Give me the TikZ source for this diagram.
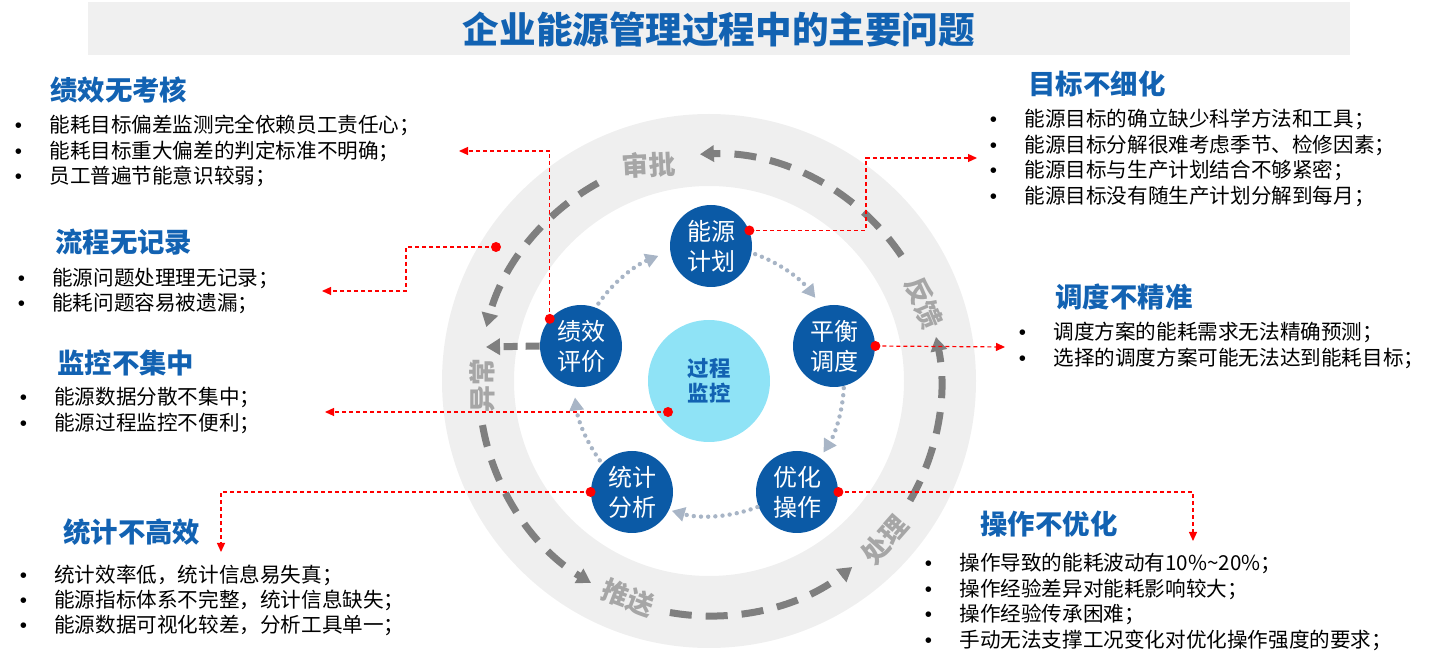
\documentclass[tikz,border=0pt]{standalone}
\usepackage{fontspec}
\setmainfont{Noto Sans CJK SC}
\newfontfamily\bulletfont{Liberation Sans}
\usetikzlibrary{arrows.meta,calc}
\definecolor{nodeblue}{HTML}{0B5AA6}
\definecolor{titleblue}{HTML}{1262B2}
\definecolor{cyanc}{HTML}{8FE3F6}
\definecolor{ringgrey}{HTML}{EFEFEF}
\definecolor{bannergrey}{HTML}{F0F0F0}
\definecolor{dashgrey}{HTML}{7F7F7F}
\definecolor{dotgrey}{HTML}{A8B5C6}
\definecolor{labelgrey}{HTML}{A6A6A6}
\definecolor{redc}{HTML}{FF0000}
\newcommand{\bitem}[1]{\makebox[0pt]{\bulletfont •}\hspace{15.5pt}#1}
\begin{document}
\begin{tikzpicture}[x=0.5pt,y=-0.5pt,
  maintitle/.style={inner sep=0pt, font=\fontsize{18.3pt}{20pt}\selectfont\bfseries, text=titleblue},
  sectitle/.style={anchor=west, inner sep=0pt, font=\fontsize{13.7pt}{15pt}\selectfont\bfseries, text=titleblue},
  bullets/.style={anchor=west, inner sep=0pt, align=left, font=\fontsize{10.3pt}{12.7pt}\selectfont, text=black},
  stage/.style={circle, fill=nodeblue, minimum size=41pt, inner sep=0pt, text=white, align=center, font=\fontsize{12pt}{15pt}\selectfont},
  core/.style={circle, fill=cyanc, minimum size=61pt, inner sep=0pt, text=titleblue, align=center, font=\fontsize{10.7pt}{12.5pt}\selectfont\bfseries},
  ringlabel/.style={text=labelgrey, inner sep=0pt, font=\fontsize{13.4pt}{14pt}\selectfont\bfseries},
  ringarrow/.style={draw=dashgrey, line width=3.5pt, dash pattern=on 11pt off 7pt, -{Triangle[length=7pt,width=8pt]}},
  dotarc/.style={draw=dotgrey, line width=2.2pt, line cap=round, dash pattern=on 0pt off 3.6pt, -{Triangle[length=6.5pt,width=7pt]}},
  reddash/.style={draw=redc, line width=0.6pt, dash pattern=on 2pt off 1.5pt, -{Triangle[length=4.5pt,width=4pt]}},
  reddot/.style={circle, fill=redc, minimum size=5pt, inner sep=0pt}]
\useasboundingbox (0,0) rectangle (1432,663);

% banner and title
\fill[bannergrey] (88,2) rectangle (1350,55);
\node[maintitle] (title) at (719,29) {企业能源管理过程中的主要问题};

% ring
\coordinate (C) at (709,381);
\coordinate (R) at (710,385);
\fill[ringgrey, even odd rule] (C) circle[radius=267] (C) circle[radius=195];

% ring arrows (counter-clockwise)
\draw[ringarrow] (R) ++(30:231) arc[start angle=30, end angle=-12, radius=231];
\draw[ringarrow] (R) ++(-34:231) arc[start angle=-34, end angle=-92.5, radius=231];
\draw[ringarrow] (R) ++(-119:231) arc[start angle=-119, end angle=-165.5, radius=231];
\draw[ringarrow] (R) ++(-190:231) arc[start angle=-190, end angle=-239, radius=231];
\draw[ringarrow] (R) ++(-260:231) arc[start angle=-260, end angle=-308, radius=231];

% ring labels
\node[ringlabel, rotate=3] (lsp) at (649,165) {审批};
\node[ringlabel, rotate=-67] (lfk) at (924,303) {反馈};
\node[ringlabel, rotate=90] (lyc) at (482,386) {异常};
\node[ringlabel, rotate=-21] (lts) at (628,598) {推送};
\node[ringlabel, rotate=48.5] (lcl) at (885,540) {处理};

% stage nodes
\node[core] (mon) at (709,381) {过程\\监控};
\node[stage] (plan) at (711,246) {能源\\计划};
\node[stage] (bal) at (834,346) {平衡\\调度};
\node[stage] (opt) at (797,492) {优化\\操作};
\node[stage] (stat) at (632,492) {统计\\分析};
\node[stage] (perf) at (581,346) {绩效\\评价};

% dotted cycle arcs (clockwise)
\draw[dotarc] (C) ++(-70:135) arc[start angle=-70, end angle=-38, radius=135];
\draw[dotarc] (C) ++(3:135) arc[start angle=3, end angle=32, radius=135];
\draw[dotarc] (C) ++(69:135) arc[start angle=69, end angle=106, radius=135];
\draw[dotarc] (C) ++(144:135) arc[start angle=144, end angle=173, radius=135];
\draw[dotarc] (C) ++(-145:135) arc[start angle=-145, end angle=-112, radius=135];

% grey arrow from perf to ring
\coordinate (e0) at (486,347);
\draw[ringarrow, dash pattern=on 7pt off 4pt] (perf.west) -- (e0);

% text blocks
\node[sectitle] (t1) at (50,90) {绩效无考核};
\node[bullets] (b1) at (18,151) {\bitem{能耗目标偏差监测完全依赖员工责任心；}\\\bitem{能耗目标重大偏差的判定标准不明确；}\\\bitem{员工普遍节能意识较弱；}};
\node[sectitle] (t2) at (55,242) {流程无记录};
\node[bullets] (b2) at (21,291) {\bitem{能源问题处理理无记录；}\\\bitem{能耗问题容易被遗漏；}};
\node[sectitle] (t3) at (57,363) {监控不集中};
\node[bullets] (b3) at (23,410.5) {\bitem{能源数据分散不集中；}\\\bitem{能源过程监控不便利；}};
\node[sectitle] (t4) at (63,532) {统计不高效};
\node[bullets] (b4) at (23,600.5) {\bitem{统计效率低，统计信息易失真；}\\\bitem{能源指标体系不完整，统计信息缺失；}\\\bitem{能源数据可视化较差，分析工具单一；}};
\node[sectitle] (t5) at (1028,84) {目标不细化};
\node[bullets] (b5) at (993,158) {\bitem{能源目标的确立缺少科学方法和工具；}\\\bitem{能源目标分解很难考虑季节、检修因素；}\\\bitem{能源目标与生产计划结合不够紧密；}\\\bitem{能源目标没有随生产计划分解到每月；}};
\node[sectitle] (t6) at (1055,297) {调度不精准};
\node[bullets] (b6) at (1022,345.5) {\bitem{调度方案的能耗需求无法精确预测；}\\\bitem{选择的调度方案可能无法达到能耗目标；}};
\node[sectitle] (t7) at (980,524) {操作不优化};
\node[bullets] (b7) at (928,602) {\bitem{操作导致的能耗波动有10\%\textasciitilde20\%；}\\\bitem{操作经验差异对能耗影响较大；}\\\bitem{操作经验传承困难；}\\\bitem{手动无法支撑工况变化对优化操作强度的要求；}};

% red connectors
\coordinate (e1) at (977,158);
\coordinate (k1) at (866,158);
\coordinate (e2) at (459,151);
\coordinate (rd) at (496,247);
\coordinate (k3) at (406,291);
\coordinate (e3) at (322,291);
\coordinate (md) at (668,412);
\coordinate (e4) at (325,412);
\coordinate (e5) at (221,552);
\coordinate (e6) at (1005,347);
\coordinate (e7) at (1193,541);

\draw[reddash] (plan.22) -| (k1) -- (e1);
\draw[reddash] (perf.139) |- (e2);
\draw[reddash] (rd) -| (k3) -- (e3);
\draw[reddash] (md) -- (e4);
\draw[reddash] (stat.west) -| (e5);
\draw[reddash] (bal.east) -- (e6);
\draw[reddash] (opt.east) -| (e7);

\node[reddot] (d1) at (plan.22) {};
\node[reddot] (d2) at (perf.139) {};
\node[reddot] (d3) at (rd) {};
\node[reddot] (d4) at (md) {};
\node[reddot] (d5) at (stat.west) {};
\node[reddot] (d6) at (bal.east) {};
\node[reddot] (d7) at (opt.east) {};
\end{tikzpicture}
\end{document}
